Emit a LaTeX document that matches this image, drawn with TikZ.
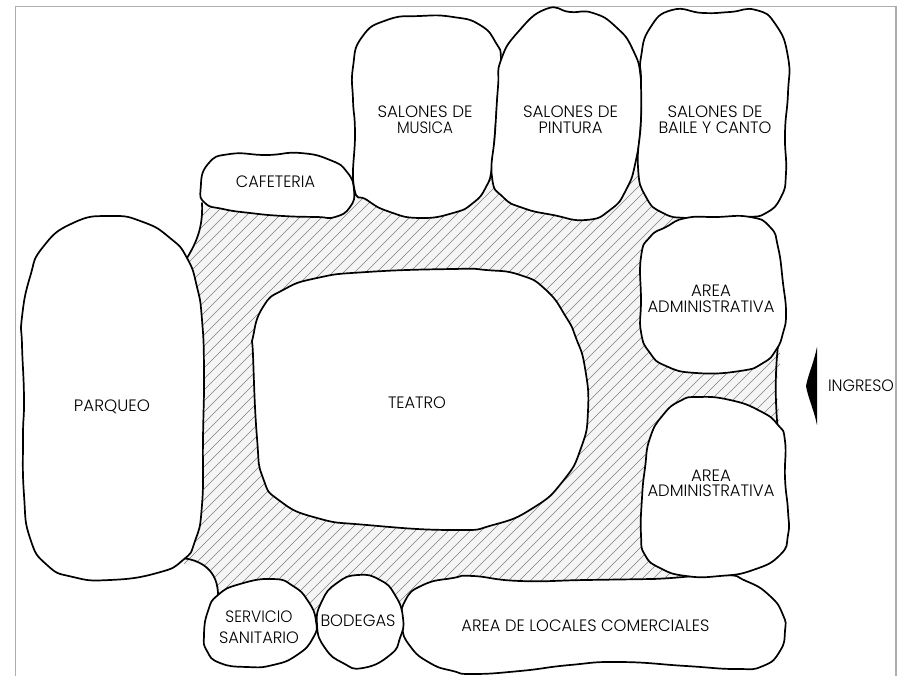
\documentclass[tikz,border=0pt]{standalone}
\usepackage{fontspec}
\usepackage{graphicx}
\setmainfont{Poppins Light}
\newcommand{\fitw}[2]{\resizebox{#1pt}{\height}{#2}}
\tikzset{
  x=1pt,y=-1pt,
  blob/.style={draw=black,fill=white,line width=1.7pt,line join=round},
  edgeline/.style={draw=black,line width=1.7pt,line cap=round},
  hatchline/.style={draw=black!50,line width=0.55pt},
  lbl/.style={inner sep=0pt,align=center,text=black,font=\fontsize{16.5}{15.5}\selectfont},
  frameline/.style={draw=black!32,line width=1.3pt}
}
\begin{document}
\begin{tikzpicture}
\useasboundingbox (0,0) rectangle (906,676);
\draw[frameline] (15.5,676) -- (15.5,6.5) -- (896,6.5) -- (896,676);
% hatched circulation area
\begin{scope}
\clip plot[smooth,tension=0.3] coordinates {(202,205)(360,190)(640,170)(700,225)(660,300)(700,365)(778,350)(776,388)(777,425)(700,430)(680,578)(600,590)(420,620)(390,620)(340,630)(300,630)(230,610)(218,595)(213,575)(200,561)(183,560)(180,400)(180,260)(187,258)(197,242)(202,223)(202,205)};
\fill[black!4] (150,130) rectangle (800,660);
\foreach \k in {-10,...,90}{
  \draw[hatchline] ({310+\k*11},130) -- ({310+\k*11-700},{130+700});
}
\end{scope}
% free edges
\coordinate (cafeA) at (202,203);
\coordinate (parqA) at (187,258);
\coordinate (parqB) at (180,558);
\coordinate (servA) at (218,597);
\coordinate (admA) at (778,345);
\coordinate (admB) at (778,432);
\draw[edgeline] (cafeA) .. controls (203,225) and (198,240) .. (parqA);
\draw[edgeline] (parqB) .. controls (200,559) and (219,570) .. (servA);
\draw[edgeline] (admA) .. controls (775,375) and (775,400) .. (admB);
% rooms
\draw[blob] plot[smooth cycle,tension=0.9] coordinates {(110,216)(143,222)(170,238)(187,258)(197,287)(202,320)(204,371)(203,438)(202,505)(195,541)(183,560)(157,573)(110,580)(73,577)(47,565)(30,538)(24,495)(23,438)(24,398)(22,345)(22,317)(30,277)(43,247)(73,223)};
\draw[blob] plot[smooth cycle,tension=0.9] coordinates {(200.7,188)(208,164)(230,154)(267,155)(300,153)(330,160)(347,172)(354,190)(350,207)(335,217)(317,217)(283,216)(250,213)(223,209)(205,203)};
\draw[blob] plot[smooth cycle,tension=0.9] coordinates {(453,17)(480,25)(496,43)(501,60)(498,93)(495,133)(492,167)(486,187)(473,203)(453,213)(420,218)(390,212)(367,200)(354,187)(355,133)(353,100)(353,67)(362,37)(387,20)(420,16)};
\draw[blob] plot[smooth cycle,tension=0.9] coordinates {(501,60)(518,32)(546,9)(570,12)(593,13)(616,27)(633,50)(641,80)(641,120)(636,160)(626,190)(610,210)(586,220)(553,215)(523,208)(503,197)(492,177)(495,133)(498,87)};
\draw[blob] plot[smooth cycle,tension=0.9] coordinates {(641,57)(650,28)(672,10)(703,13)(730,12)(756,10)(776,25)(788,57)(788,93)(785,133)(786,173)(781,197)(766,213)(746,217)(716,217)(686,218)(663,213)(646,197)(638,167)(641,120)(641,80)};
\draw[blob] plot[smooth cycle,tension=0.9] coordinates {(686,218)(716,217)(750,217)(770,227)(778,247)(783,283)(786,313)(783,333)(776,350)(763,363)(740,371)(696,373)(666,366)(650,353)(641,332)(641,300)(641,257)(650,237)(666,227)};
\draw[blob] plot[smooth cycle,tension=0.9] coordinates {(453,578)(473,576)(520,581)(586,580)(653,579)(720,575)(746,581)(770,596)(783,615)(785,631)(780,651)(763,666)(736,669)(686,666)(620,662)(570,665)(520,671)(473,674)(453,671)(430,663)(410,646)(402,625)(405,601)(423,585)};
\draw[blob] plot[smooth cycle,tension=0.9] coordinates {(698,397)(730,400)(760,411)(778,425)(785,441)(785,478)(788,511)(788,535)(780,555)(753,570)(720,576)(686,576)(660,568)(645,555)(641,535)(642,498)(645,468)(650,438)(663,415)(680,401)};
\draw[blob] plot[smooth cycle,tension=0.9] coordinates {(358,575)(380,580)(395,595)(403,618)(400,638)(390,655)(363,668)(343,663)(325,648)(317,625)(322,601)(337,583)};
\draw[blob] plot[smooth cycle,tension=0.9] coordinates {(273,579)(293,586)(308,601)(316,621)(313,638)(297,655)(273,665)(247,667)(220,663)(207,651)(204,635)(208,611)(218,595)(240,584)};
\draw[blob] plot[smooth cycle,tension=0.9] coordinates {(453,269)(367,272)(317,278)(283,290)(263,307)(253,337)(253,355)(257,438)(263,478)(280,501)(317,518)(367,525)(453,530)(493,525)(533,508)(563,481)(581,448)(588,411)(585,368)(576,338)(566,317)(546,290)(520,275)(486,270)};
% entrance arrow
\coordinate (tipA) at (806,386);
\coordinate (tipB) at (817,347);
\coordinate (tipC) at (817,425);
\fill[black] (tipB) .. controls (814,362) and (808,375) .. (tipA) .. controls (808,398) and (814,410) .. (tipC) -- cycle;
% labels
\node[lbl] (musica) at (425,119.5) {\fitw{95}{SALONES DE}\\\fitw{56}{MUSICA}};
\node[lbl] (pintura) at (570.5,119.5) {\fitw{95}{SALONES DE}\\\fitw{64}{PINTURA}};
\node[lbl] (baile) at (715,119.5) {\fitw{95}{SALONES DE}\\\fitw{113}{BAILE Y CANTO}};
\node[lbl] (cafe) at (275.5,182) {\fitw{79}{CAFETERIA}};
\node[lbl] (admin1) at (711,299) {\fitw{40}{AREA}\\\fitw{127}{ADMINISTRATIVA}};
\node[lbl] (admin2) at (711,483.5) {\fitw{40}{AREA}\\\fitw{127}{ADMINISTRATIVA}};
\node[lbl] (ingreso) at (861,386) {\fitw{66}{INGRESO}};
\node[lbl] (teatro) at (417,403) {\fitw{58}{TEATRO}};
\node[lbl] (parqueo) at (112,407) {\fitw{76}{PARQUEO}};
\node[lbl,font=\fontsize{16.5}{21}\selectfont] (servicio) at (259,627.5) {\fitw{67}{SERVICIO}\\\fitw{80}{SANITARIO}};
\node[lbl] (bodegas) at (358,621) {\fitw{75}{BODEGAS}};
\node[lbl] (locales) at (585.5,626) {\fitw{248}{AREA DE LOCALES COMERCIALES}};
\end{tikzpicture}
\end{document}
